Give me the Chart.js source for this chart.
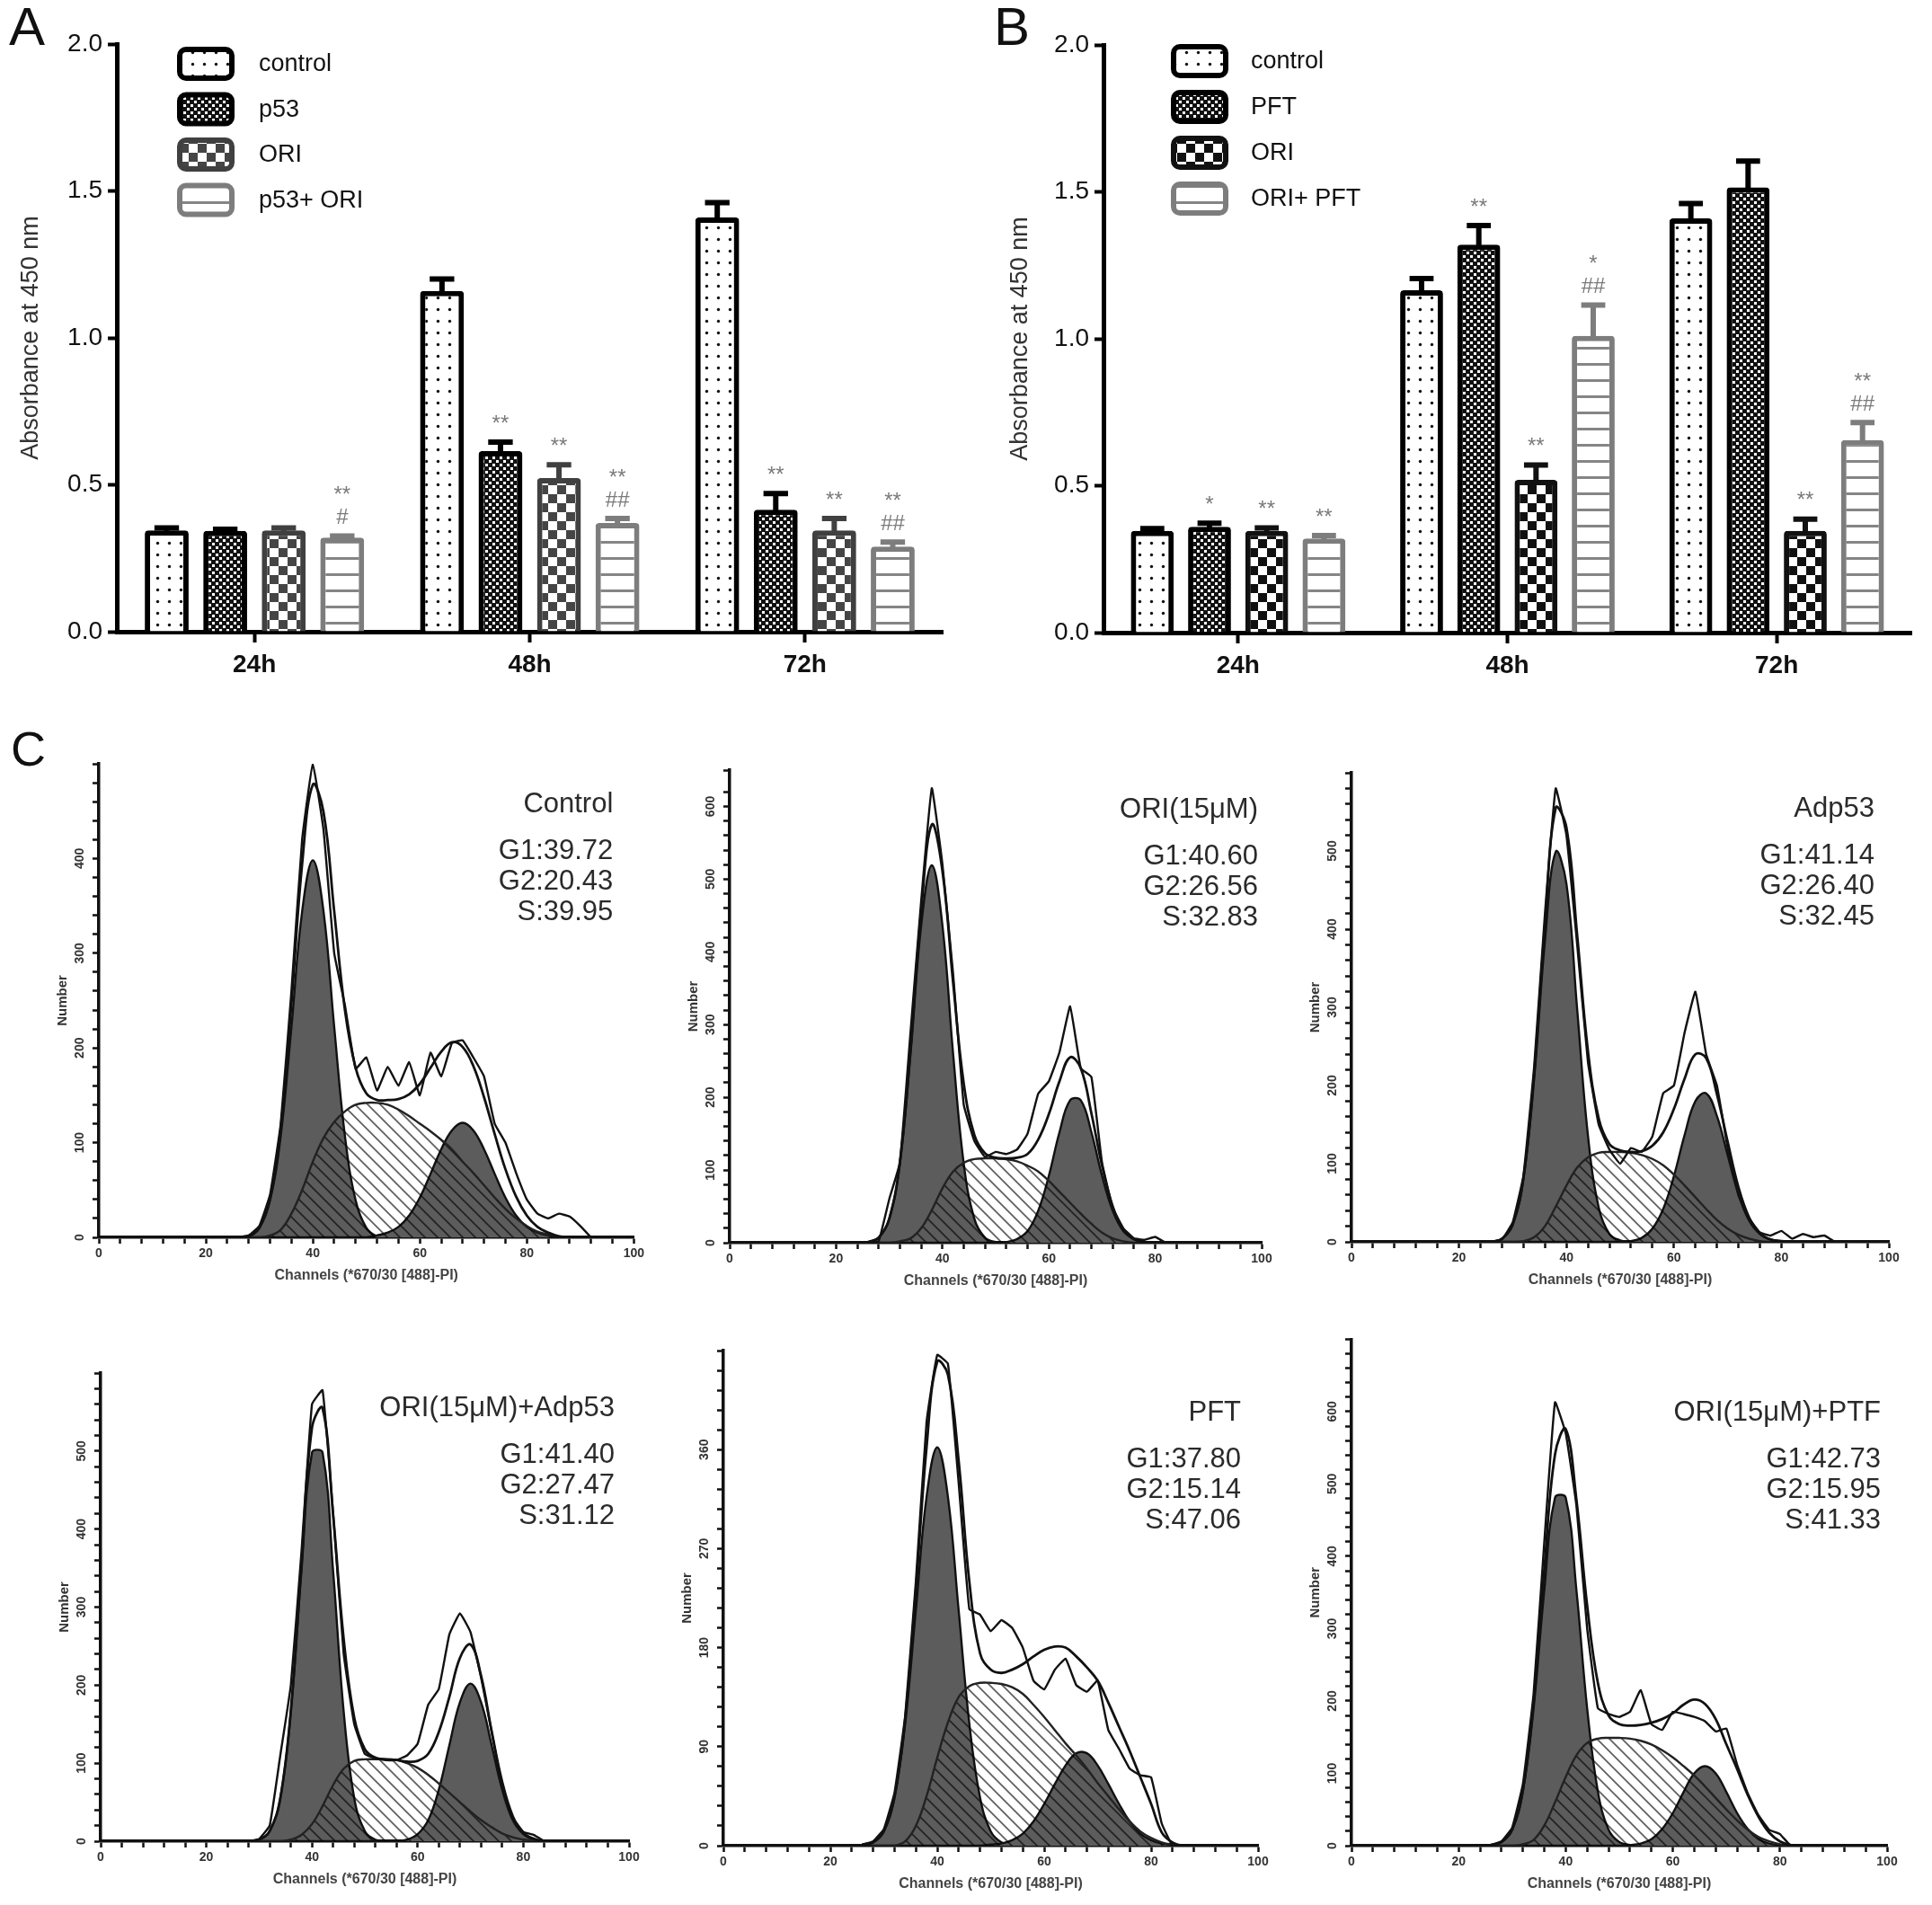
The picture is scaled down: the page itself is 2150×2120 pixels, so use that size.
<!DOCTYPE html>
<html>
<head>
<meta charset="utf-8">
<script src="https://cdn.jsdelivr.net/npm/chart.js@4.4.1/dist/chart.umd.min.js"></script>
<style>
  body { margin: 0; background: #fff; }
  #fig { position: relative; width: 2150px; height: 2120px; background: #fff; overflow: hidden; }
  #fig canvas { position: absolute; }
  .tag { position: absolute; font-family: "Liberation Sans", Arial, sans-serif; color: #111; line-height: 1; }
</style>
</head>
<body>
<div id="fig">
  <canvas id="barA" width="1080" height="790" style="left:0px;top:0px"></canvas>
  <canvas id="barB" width="1070" height="790" style="left:1080px;top:0px"></canvas>
  <canvas id="h1" width="720" height="620" style="left:0px;top:820px"></canvas>
  <canvas id="h2" width="700" height="620" style="left:720px;top:820px"></canvas>
  <canvas id="h3" width="730" height="620" style="left:1420px;top:820px"></canvas>
  <canvas id="h4" width="720" height="640" style="left:0px;top:1480px"></canvas>
  <canvas id="h5" width="700" height="640" style="left:720px;top:1480px"></canvas>
  <canvas id="h6" width="730" height="640" style="left:1420px;top:1480px"></canvas>
  <div class="tag" style="left:10px;top:0px;font-size:60px">A</div>
  <div class="tag" style="left:1106px;top:0px;font-size:60px">B</div>
  <div class="tag" style="left:12px;top:806px;font-size:54px">C</div>
</div>
<script>
// ---------- data: panels A and B ----------
const timepoints = ["24h", "48h", "72h"];
const absTicks = [0, 0.5, 1.0, 1.5, 2.0];

const aLabels = ["control", "p53", "ORI", "p53+ ORI"];
const aControl = [0.345, 1.16, 1.41];
const aP53 = [0.343, 0.615, 0.415];
const aOri = [0.345, 0.523, 0.345];
const aP53Ori = [0.32, 0.37, 0.29];
const aControlErr = [0.008, 0.04, 0.05];
const aP53Err = [0.006, 0.03, 0.055];
const aOriErr = [0.008, 0.045, 0.04];
const aP53OriErr = [0.006, 0.015, 0.015];
const aControlSig = ["", "", ""];
const aP53Sig = ["", "**", "**"];
const aOriSig = ["", "**", "**"];
const aP53OriSig = ["**\n#", "**\n##", "**\n##"];

const bLabels = ["control", "PFT", "ORI", "ORI+ PFT"];
const bControl = [0.346, 1.165, 1.41];
const bPft = [0.36, 1.32, 1.515];
const bOri = [0.346, 0.52, 0.346];
const bOriPft = [0.32, 1.01, 0.655];
const bControlErr = [0.008, 0.04, 0.05];
const bPftErr = [0.012, 0.065, 0.09];
const bOriErr = [0.01, 0.05, 0.04];
const bOriPftErr = [0.01, 0.105, 0.06];
const bControlSig = ["", "", ""];
const bPftSig = ["*", "**", ""];
const bOriSig = ["**", "**", "**"];
const bOriPftSig = ["**", "*\n##", "**\n##"];

// ---------- data: panel C (DNA histograms) ----------
const channels = [26, 28, 30, 32, 34, 36, 38, 40, 42, 44, 46, 48, 50, 52, 54, 56, 58, 60, 62, 64, 66, 68, 70, 72, 74, 76, 78, 80, 82, 84, 86, 88, 90, 92];
const channelTicks = [0, 20, 40, 60, 80, 100];

const histTitles = ["Control", "ORI(15μM)", "Adp53", "ORI(15μM)+Adp53", "PFT", "ORI(15μM)+PTF"];
const histG1 = [39.72, 40.60, 41.14, 41.40, 37.80, 42.73];
const histG2 = [20.43, 26.56, 26.40, 27.47, 15.14, 15.95];
const histS = [39.95, 32.83, 32.45, 31.12, 47.06, 41.33];
const histYMax = [500, 650, 600, 600, 450, 700];
const histYStep = [20, 20, 20, 20, 18, 20];
const histYLabels = [
  [0, 100, 200, 300, 400],
  [0, 100, 200, 300, 400, 500, 600],
  [0, 100, 200, 300, 400, 500],
  [0, 100, 200, 300, 400, 500],
  [0, 90, 180, 270, 360],
  [0, 100, 200, 300, 400, 500, 600]
];

const ctrlG1 = [0, 1, 10, 39, 107, 222, 344, 398, 344, 222, 107, 39, 10, 1, 0, 0, 0, 0, 0, 0, 0, 0, 0, 0, 0, 0, 0, 0, 0, 0, 0, 0, 0, 0];
const ctrlS = [0, 0, 0, 2, 8, 25, 50, 80, 105, 122, 133, 140, 142, 142, 140, 135, 128, 120, 112, 103, 93, 80, 68, 55, 42, 30, 20, 12, 6, 3, 1, 0, 0, 0];
const ctrlG2 = [0, 0, 0, 0, 0, 0, 0, 0, 0, 0, 0, 0, 0, 2, 5, 11, 23, 42, 67, 93, 113, 121, 113, 93, 67, 42, 23, 11, 5, 2, 0, 0, 0, 0];
const ctrlFit = [0, 1, 10, 41, 115, 247, 394, 478, 449, 344, 240, 179, 152, 145, 145, 146, 151, 162, 179, 196, 206, 201, 181, 148, 109, 72, 43, 23, 11, 5, 1, 0, 0, 0];
const ctrlRaw = [0, 2, 12, 45, 120, 260, 420, 500, 430, 300, 245, 178, 190, 155, 180, 160, 185, 150, 195, 170, 205, 208, 190, 170, 120, 100, 68, 40, 25, 20, 25, 22, 12, 0];

const oriG1 = [1, 7, 33, 109, 260, 436, 519, 436, 260, 109, 33, 7, 1, 0, 0, 0, 0, 0, 0, 0, 0, 0, 0, 0, 0, 0, 0, 0, 0, 0, 0, 0, 0, 0];
const oriS = [0, 0, 0, 2, 6, 20, 45, 75, 98, 110, 115, 116, 116, 115, 112, 106, 98, 85, 70, 55, 40, 26, 14, 6, 2, 0, 0, 0, 0, 0, 0, 0, 0, 0];
const oriG2 = [0, 0, 0, 0, 0, 0, 0, 0, 0, 0, 0, 0, 0, 1, 5, 16, 44, 92, 152, 196, 196, 152, 92, 44, 16, 5, 1, 0, 0, 0, 0, 0, 0, 0];
const oriFit = [1, 7, 33, 111, 266, 456, 575, 511, 358, 219, 148, 123, 117, 116, 117, 122, 142, 177, 222, 255, 240, 178, 106, 50, 18, 5, 1, 0, 0, 0, 0, 0, 0, 0];
const oriRaw = [0, 2, 60, 110, 290, 470, 625, 520, 370, 190, 140, 118, 125, 122, 128, 150, 205, 222, 262, 325, 240, 228, 110, 48, 20, 6, 4, 8, 0, 0, 0, 0, 0, 0];

const adpG1 = [0, 4, 22, 81, 210, 385, 499, 458, 297, 136, 44, 10, 2, 0, 0, 0, 0, 0, 0, 0, 0, 0, 0, 0, 0, 0, 0, 0, 0, 0, 0, 0, 0, 0];
const adpS = [0, 0, 0, 1, 6, 20, 45, 72, 95, 108, 114, 115, 115, 114, 111, 106, 98, 86, 72, 57, 42, 28, 17, 9, 4, 1, 0, 0, 0, 0, 0, 0, 0, 0];
const adpG2 = [0, 0, 0, 0, 0, 0, 0, 0, 0, 0, 0, 0, 0, 1, 5, 17, 42, 84, 137, 180, 190, 161, 111, 61, 27, 10, 3, 1, 0, 0, 0, 0, 0, 0];
const adpFit = [0, 4, 22, 82, 216, 405, 555, 530, 392, 244, 158, 125, 117, 115, 116, 123, 140, 170, 209, 240, 235, 189, 128, 70, 31, 11, 3, 1, 0, 0, 0, 0, 0, 0];
const adpRaw = [0, 3, 25, 85, 225, 420, 580, 520, 380, 230, 150, 118, 100, 120, 115, 135, 190, 200, 268, 320, 240, 200, 120, 60, 30, 12, 8, 14, 4, 10, 6, 8, 0, 0];

const oriAdpG1 = [0, 0, 2, 13, 55, 166, 346, 498, 498, 346, 166, 55, 13, 2, 0, 0, 0, 0, 0, 0, 0, 0, 0, 0, 0, 0, 0, 0, 0, 0, 0, 0, 0, 0];
const oriAdpS = [0, 0, 0, 0, 0, 2, 8, 22, 45, 72, 93, 103, 105, 105, 105, 104, 100, 94, 85, 74, 62, 50, 38, 27, 18, 10, 5, 2, 1, 0, 0, 0, 0, 0];
const oriAdpG2 = [0, 0, 0, 0, 0, 0, 0, 0, 0, 0, 0, 0, 0, 0, 0, 0, 2, 9, 27, 66, 123, 178, 202, 178, 123, 66, 27, 9, 2, 0, 0, 0, 0, 0];
const oriAdpFit = [0, 0, 2, 13, 55, 168, 354, 530, 555, 418, 259, 158, 118, 107, 105, 104, 102, 103, 112, 140, 185, 235, 252, 212, 141, 76, 32, 11, 3, 0, 0, 0, 0, 0];
const oriAdpRaw = [0, 0, 3, 20, 110, 200, 370, 560, 578, 420, 240, 150, 112, 106, 104, 104, 110, 125, 175, 195, 265, 292, 268, 210, 140, 70, 30, 12, 8, 0, 0, 0, 0, 0];

const pftG1 = [1, 3, 13, 44, 111, 214, 317, 362, 317, 214, 111, 44, 13, 3, 1, 0, 0, 0, 0, 0, 0, 0, 0, 0, 0, 0, 0, 0, 0, 0, 0, 0, 0, 0];
const pftS = [0, 0, 0, 0, 4, 18, 45, 80, 112, 135, 145, 148, 148, 147, 144, 138, 128, 117, 105, 93, 82, 70, 57, 45, 33, 22, 13, 7, 3, 1, 0, 0, 0, 0];
const pftG2 = [0, 0, 0, 0, 0, 0, 0, 0, 0, 0, 0, 0, 1, 2, 5, 11, 22, 38, 56, 73, 84, 84, 73, 56, 38, 22, 11, 5, 2, 1, 0, 0, 0, 0];
const pftFit = [1, 3, 13, 44, 115, 232, 362, 440, 428, 350, 240, 175, 160, 157, 160, 165, 172, 178, 181, 180, 172, 162, 150, 130, 108, 86, 62, 38, 12, 3, 0, 0, 0, 0];
const pftRaw = [1, 4, 15, 48, 118, 240, 385, 446, 438, 330, 215, 210, 195, 205, 198, 180, 150, 142, 160, 170, 146, 140, 150, 105, 88, 70, 64, 62, 20, 0, 0, 0, 0, 0];

const oriPftG1 = [1, 5, 22, 75, 190, 353, 481, 481, 353, 190, 75, 22, 5, 1, 0, 0, 0, 0, 0, 0, 0, 0, 0, 0, 0, 0, 0, 0, 0, 0, 0, 0, 0, 0];
const oriPftS = [0, 0, 0, 2, 8, 28, 60, 95, 125, 142, 148, 149, 149, 148, 145, 140, 132, 122, 110, 97, 82, 66, 50, 35, 22, 12, 6, 2, 0, 0, 0, 0, 0, 0];
const oriPftG2 = [0, 0, 0, 0, 0, 0, 0, 0, 0, 0, 0, 0, 0, 1, 3, 9, 23, 45, 74, 100, 110, 100, 74, 45, 23, 9, 3, 1, 0, 0, 0, 0, 0, 0];
const oriPftFit = [1, 5, 22, 77, 198, 381, 541, 576, 478, 332, 225, 180, 168, 166, 167, 170, 175, 183, 195, 202, 196, 175, 140, 106, 70, 40, 18, 6, 1, 0, 0, 0, 0, 0];
const oriPftRaw = [1, 6, 25, 85, 210, 420, 613, 570, 470, 300, 190, 182, 178, 185, 215, 168, 160, 185, 182, 178, 172, 158, 162, 112, 72, 42, 22, 16, 0, 0, 0, 0, 0, 0];

// ---------- patterns ----------
function makePattern(w, h, draw) {
    const c = document.createElement("canvas");
    c.width = w; c.height = h;
    const g = c.getContext("2d");
    draw(g, w, h);
    return g.createPattern(c, "repeat");
}
const dots = makePattern(13, 13, (g) => {
    g.fillStyle = "#fff"; g.fillRect(0, 0, 13, 13);
    g.fillStyle = "#111"; g.beginPath(); g.arc(6.5, 6.5, 1.7, 0, Math.PI * 2); g.fill();
});
function fineMesh(col) {
    return makePattern(8, 8, (g) => {
        g.fillStyle = col; g.fillRect(0, 0, 8, 8);
        g.fillStyle = "#fff"; g.fillRect(0, 0, 3, 3); g.fillRect(4, 4, 3, 3);
    });
}
function bigChecker(col) {
    return makePattern(20, 20, (g) => {
        g.fillStyle = "#fff"; g.fillRect(0, 0, 20, 20);
        g.fillStyle = col; g.fillRect(0, 0, 10, 10); g.fillRect(10, 10, 10, 10);
    });
}
function hLines(col) {
    return makePattern(18, 18, (g) => {
        g.fillStyle = "#fff"; g.fillRect(0, 0, 18, 18);
        g.fillStyle = col; g.fillRect(0, 8, 18, 3);
    });
}
const hatch = makePattern(14, 14, (g) => {
    g.strokeStyle = "rgba(0,0,0,0.62)"; g.lineWidth = 1.8;
    g.beginPath();
    g.moveTo(-3, -3); g.lineTo(17, 17);
    g.moveTo(-3, 11); g.lineTo(3, 17);
    g.moveTo(11, -3); g.lineTo(17, 3);
    g.stroke();
});

const BAR_FONT = "'Liberation Sans Narrow', 'Liberation Sans', Arial, sans-serif";
const C_FONT = "'Liberation Sans', Arial, sans-serif";

// ---------- plugins ----------
const errorBars = {
    id: "errorBars",
    afterDatasetsDraw(chart) {
        const ctx = chart.ctx, y = chart.scales.y;
        chart.data.datasets.forEach((ds, i) => {
            chart.getDatasetMeta(i).data.forEach((bar, j) => {
                const top = y.getPixelForValue(ds.data[j] + ds.err[j]);
                const half = bar.width * 0.28;
                ctx.save();
                ctx.strokeStyle = ds.borderColor;
                ctx.lineWidth = 6;
                ctx.beginPath();
                ctx.moveTo(bar.x, bar.y + 2); ctx.lineTo(bar.x, top);
                ctx.moveTo(bar.x - half, top); ctx.lineTo(bar.x + half, top);
                ctx.stroke();
                const lines = ds.sig[j] ? ds.sig[j].split("\n") : [];
                ctx.fillStyle = "#7a7a7a";
                ctx.font = "24px " + C_FONT;
                ctx.textAlign = "center";
                ctx.textBaseline = "middle";
                lines.forEach((t, k) => {
                    ctx.fillText(t, bar.x, top - 20 - (lines.length - 1 - k) * 25);
                });
                ctx.restore();
            });
        });
    }
};

const boxLegend = {
    id: "boxLegend",
    afterDraw(chart, args, o) {
        const ctx = chart.ctx;
        chart.data.datasets.forEach((ds, i) => {
            const cy = o.y + i * o.gap;
            ctx.save();
            ctx.beginPath();
            ctx.roundRect(o.x, cy - 16, 58, 32, 7);
            ctx.fillStyle = ds.backgroundColor;
            ctx.fill();
            ctx.lineWidth = 6;
            ctx.strokeStyle = ds.borderColor;
            ctx.stroke();
            ctx.fillStyle = "#111";
            ctx.font = "27px " + BAR_FONT;
            ctx.textAlign = "left";
            ctx.textBaseline = "middle";
            ctx.fillText(ds.label, o.textX, cy + 1);
            ctx.restore();
        });
    }
};

const phaseText = {
    id: "phaseText",
    afterDraw(chart, args, o) {
        const ctx = chart.ctx, a = chart.chartArea;
        ctx.save();
        ctx.fillStyle = "#2a2a2a";
        ctx.font = "31px " + C_FONT;
        ctx.textAlign = "right";
        ctx.textBaseline = "middle";
        const x = a.right - o.dx;
        const offs = [482, 430, 396, 362];
        o.lines.forEach((t, i) => ctx.fillText(t, x, a.bottom - offs[i]));
        ctx.restore();
    }
};

// ---------- bar charts ----------
function drawBars(id, labels, values, errs, sigs, fills, lines, box, leg) {
    const cv = document.getElementById(id);
    return new Chart(cv, {
        type: "bar",
        data: {
            labels: timepoints,
            datasets: labels.map((lab, i) => ({
                label: lab,
                data: values[i],
                err: errs[i],
                sig: sigs[i],
                backgroundColor: fills[i],
                borderColor: lines[i],
                borderWidth: 6,
                borderRadius: 4,
                categoryPercentage: 0.85,
                barPercentage: 0.75
            }))
        },
        options: {
            responsive: false,
            animation: false,
            events: [],
            layout: { autoPadding: false, padding: { left: 0, right: cv.width - box.r, top: box.t, bottom: 0 } },
            plugins: { legend: { display: false }, tooltip: { enabled: false }, boxLegend: leg },
            scales: {
                x: {
                    offset: true,
                    grid: { offset: false, drawOnChartArea: false, tickLength: 12, tickWidth: 4, color: "#000" },
                    border: { width: 5, color: "#000" },
                    ticks: { font: { family: BAR_FONT, size: 28, weight: "bold" }, color: "#111", padding: 8 },
                    afterFit: (s) => { s.height = cv.height - box.b; }
                },
                y: {
                    min: 0,
                    max: 2,
                    afterBuildTicks: (s) => { s.ticks = absTicks.map((v) => ({ value: v })); },
                    ticks: { callback: (v) => v.toFixed(1), font: { family: BAR_FONT, size: 28 }, color: "#111", padding: 6 },
                    grid: { drawOnChartArea: false, tickLength: 10, tickWidth: 4, color: "#000" },
                    border: { width: 5, color: "#000" },
                    title: {
                        display: true, text: "Absorbance at 450 nm", color: "#333",
                        font: { family: C_FONT, size: 27 }, padding: { top: box.titleX - 16, bottom: 0 }
                    },
                    afterFit: (s) => { s.width = box.l; }
                }
            }
        },
        plugins: [errorBars, boxLegend]
    });
}

drawBars("barA", aLabels,
    [aControl, aP53, aOri, aP53Ori],
    [aControlErr, aP53Err, aOriErr, aP53OriErr],
    [aControlSig, aP53Sig, aOriSig, aP53OriSig],
    [dots, fineMesh("#111"), bigChecker("#454545"), hLines("#858585")],
    ["#000", "#000", "#404040", "#7d7d7d"],
    { l: 130, r: 1049, t: 49, b: 703, titleX: 34 },
    { x: 200, y: 71, gap: 50.5, textX: 288 });

drawBars("barB", bLabels,
    [bControl, bPft, bOri, bOriPft],
    [bControlErr, bPftErr, bOriErr, bOriPftErr],
    [bControlSig, bPftSig, bOriSig, bOriPftSig],
    [dots, fineMesh("#111"), bigChecker("#111"), hLines("#858585")],
    ["#000", "#000", "#111", "#7d7d7d"],
    { l: 148, r: 1047, t: 50, b: 704, titleX: 55 },
    { x: 226, y: 68, gap: 51, textX: 312 });

// ---------- histograms ----------
const histLayout = [
    { id: "h1", l: 110, r: 712, t: 30, b: 557, dx: 23 },
    { id: "h2", l: 92, r: 684, t: 37, b: 563, dx: 4 },
    { id: "h3", l: 84, r: 682, t: 40, b: 562, dx: 16 },
    { id: "h4", l: 112, r: 700, t: 48, b: 569, dx: 16 },
    { id: "h5", l: 85, r: 680, t: 23, b: 574, dx: 19 },
    { id: "h6", l: 84, r: 680, t: 6, b: 574, dx: 7 }
];
const histSeries = [
    [ctrlG1, ctrlS, ctrlG2, ctrlFit, ctrlRaw],
    [oriG1, oriS, oriG2, oriFit, oriRaw],
    [adpG1, adpS, adpG2, adpFit, adpRaw],
    [oriAdpG1, oriAdpS, oriAdpG2, oriAdpFit, oriAdpRaw],
    [pftG1, pftS, pftG2, pftFit, pftRaw],
    [oriPftG1, oriPftS, oriPftG2, oriPftFit, oriPftRaw]
];

function pts(arr) {
    return channels.map((c, i) => ({ x: c, y: arr[i] }));
}

histLayout.forEach((L, k) => {
    const cv = document.getElementById(L.id);
    const [g1, s, g2, fit, raw] = histSeries[k];
    const hx = cv.height - L.b;
    const smooth = { pointRadius: 0, tension: 0.4 };
    new Chart(cv, {
        type: "line",
        data: {
            datasets: [
                { label: "raw", data: pts(raw), borderColor: "#111", borderWidth: 2.4, fill: false, pointRadius: 0, tension: 0.1, order: 0 },
                { label: "fit", data: pts(fit), borderColor: "#111", borderWidth: 2.8, fill: false, order: 1, ...smooth },
                { label: "S", data: pts(s), borderColor: "#222", borderWidth: 2.4, backgroundColor: hatch, fill: "origin", order: 2, ...smooth },
                { label: "G2", data: pts(g2), borderColor: "#111", borderWidth: 2.4, backgroundColor: "#5c5c5c", fill: "origin", order: 3, ...smooth },
                { label: "G1", data: pts(g1), borderColor: "#111", borderWidth: 2.4, backgroundColor: "#5c5c5c", fill: "origin", order: 4, ...smooth }
            ]
        },
        options: {
            responsive: false,
            animation: false,
            events: [],
            layout: { autoPadding: false, padding: { left: L.l - 55, right: cv.width - L.r, top: L.t, bottom: 0 } },
            plugins: {
                legend: { display: false },
                tooltip: { enabled: false },
                phaseText: {
                    dx: L.dx,
                    lines: [histTitles[k], "G1:" + histG1[k].toFixed(2), "G2:" + histG2[k].toFixed(2), "S:" + histS[k].toFixed(2)]
                }
            },
            scales: {
                x: {
                    type: "linear",
                    min: 0,
                    max: 100,
                    ticks: {
                        stepSize: 4, autoSkip: false, maxRotation: 0,
                        callback: (v) => (channelTicks.includes(v) ? String(v) : ""),
                        font: { family: C_FONT, size: 14, weight: "bold" }, color: "#333", padding: 3
                    },
                    grid: { drawOnChartArea: false, tickLength: 7, tickWidth: 2.5, color: "#111" },
                    border: { width: 3.5, color: "#111" },
                    title: {
                        display: true, text: "Channels (*670/30 [488]-PI)", color: "#444",
                        font: { family: C_FONT, size: 16, weight: "bold" }, padding: { top: 0, bottom: hx - 43 - 9.6 }
                    },
                    afterFit: (sc) => { sc.height = hx; }
                },
                y: {
                    min: 0,
                    max: histYMax[k],
                    ticks: {
                        stepSize: histYStep[k], autoSkip: false, minRotation: 90, maxRotation: 90, crossAlign: "center",
                        callback: (v) => (histYLabels[k].includes(v) ? String(v) : ""),
                        font: { family: C_FONT, size: 14, weight: "bold" }, color: "#333", padding: 2
                    },
                    grid: { drawOnChartArea: false, tickLength: 7, tickWidth: 2.5, color: "#111" },
                    border: { width: 3.5, color: "#111" },
                    title: {
                        display: true, text: "Number", color: "#333",
                        font: { family: C_FONT, size: 15, weight: "bold" }, padding: { top: 6, bottom: 0 }
                    },
                    afterFit: (sc) => { sc.width = 55; }
                }
            }
        },
        plugins: [phaseText]
    });
});
</script>
</body>
</html>
